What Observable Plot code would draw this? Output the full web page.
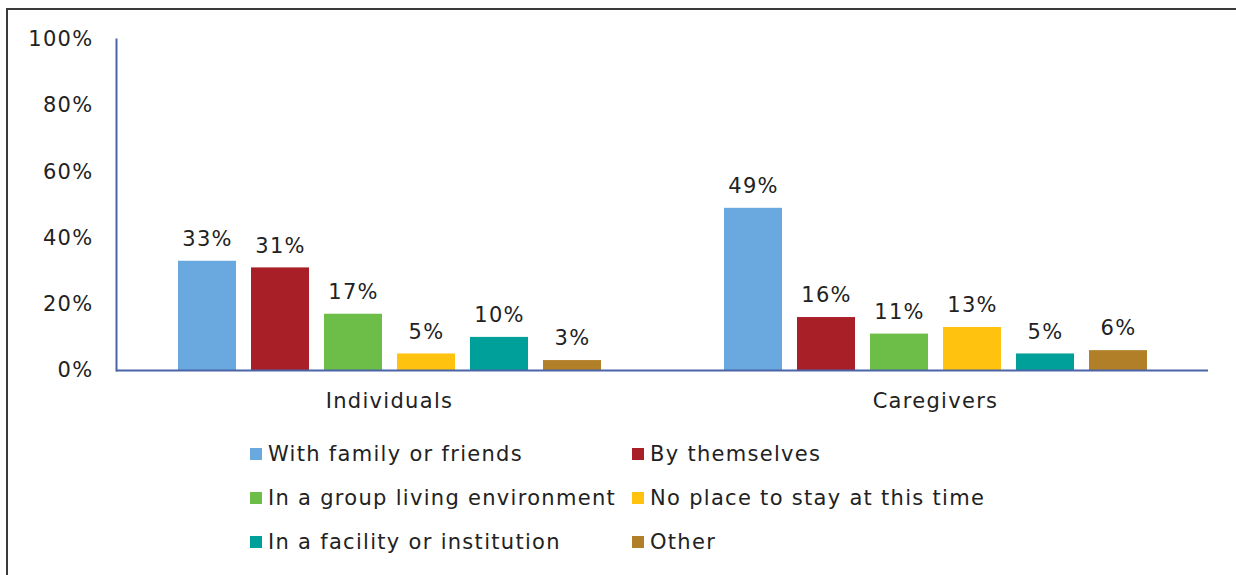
<!DOCTYPE html>
<html><head><meta charset="utf-8">
<script src="https://cdn.jsdelivr.net/npm/d3@7"></script>
<script src="https://cdn.jsdelivr.net/npm/@observablehq/plot@0.6"></script>
<style>
body{margin:0;background:#fff;font-family:"DejaVu Sans",Verdana,sans-serif;overflow:hidden;}
#frame{position:absolute;left:6px;top:8px;width:1250px;height:600px;border:2.5px solid #3a3a3a;box-sizing:border-box;}
#chart{position:absolute;left:0;top:0;}
#legend{position:absolute;left:250px;top:439px;display:grid;grid-template-columns:382px 400px;row-gap:14px;font-size:21px;letter-spacing:1.3px;color:#222;}
#legend div{display:flex;align-items:center;height:30px;}
#legend span.sw{display:inline-block;width:12px;height:12px;margin-right:6px;}
</style></head>
<body>
<div id="frame"></div>
<div id="chart"></div>
<div id="legend"></div>
<script>
const groups = ["Individuals", "Caregivers"];
const categories = ["With family or friends", "By themselves", "In a group living environment", "No place to stay at this time", "In a facility or institution", "Other"];
const colors = ["#6aa8e0", "#a81f28", "#6dbe48", "#ffc20e", "#00a09a", "#b07f27"];
const individuals = [33, 31, 17, 5, 10, 3];
const caregivers = [49, 16, 11, 13, 5, 6];
const yTicks = [0, 20, 40, 60, 80, 100];

const data = [];
categories.forEach((c, i) => {
  data.push({group: groups[0], cat: c, value: individuals[i]});
  data.push({group: groups[1], cat: c, value: caregivers[i]});
});

const plot = Plot.plot({
  width: 1236,
  height: 420,
  marginLeft: 116,
  marginRight: 28,
  marginTop: 39,
  marginBottom: 50,
  style: {fontFamily: '"DejaVu Sans", Verdana, sans-serif', fontSize: "21px", letterSpacing: "1.3px", color: "#222", background: "transparent"},
  fx: {domain: groups, padding: 0, label: null},
  x: {domain: categories, paddingInner: 0.21, paddingOuter: 0.83, axis: null},
  y: {domain: [0, 100], axis: null},
  color: {domain: categories, range: colors},
  marks: [
    Plot.barY(data, {fx: "group", x: "cat", y: "value", fill: "cat"}),
    Plot.frame({anchor: "left", facetAnchor: "left", stroke: "#4a64a8", strokeWidth: 2}),
    Plot.ruleY([0], {stroke: "#4a64a8", strokeWidth: 2}),
    Plot.axisY({ticks: yTicks, tickSize: 0, tickPadding: 23, tickFormat: d => d + "%", label: null, fill: "#222"}),
    Plot.axisFx({anchor: "bottom", tickSize: 0, tickPadding: 23, label: null, fill: "#222"}),
    Plot.text(data, {fx: "group", x: "cat", y: "value", text: d => d.value + "%", dy: -22, fill: "#222"})
  ]
});
document.getElementById("chart").appendChild(plot);

const leg = document.getElementById("legend");
categories.forEach((c, i) => {
  const d = document.createElement("div");
  d.innerHTML = `<span class="sw" style="background:${colors[i]}"></span>${c}`;
  leg.appendChild(d);
});
</script>
</body></html>
